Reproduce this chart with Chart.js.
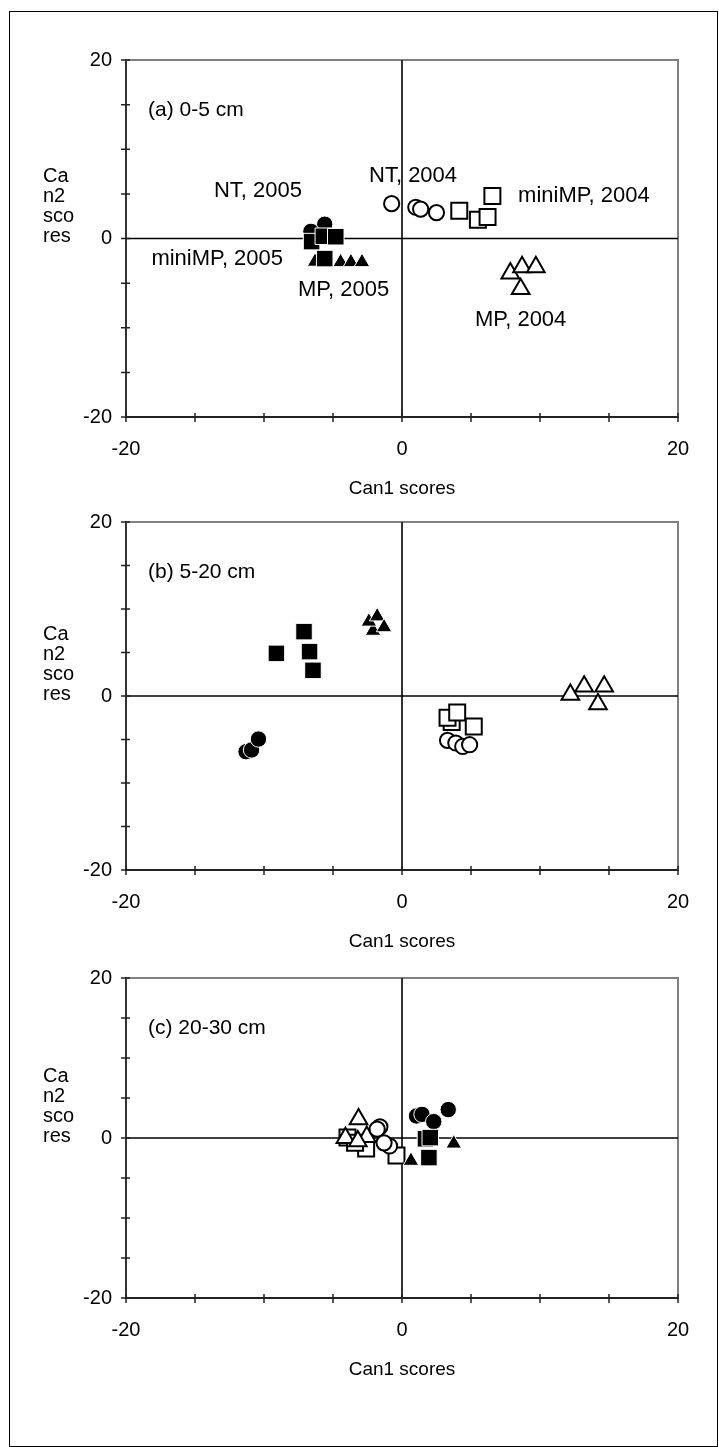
<!DOCTYPE html>
<html>
<head>
<meta charset="utf-8">
<script src="https://cdn.jsdelivr.net/npm/chart.js@4/dist/chart.umd.min.js"></script>
<style>
  body { margin: 0; background: #fff; width: 719px; height: 1447px; position: relative; overflow: hidden; }
  #frame { position: absolute; left: 9px; top: 11px; width: 709px; height: 1436px; box-sizing: border-box; border: 1px solid #000; }
  canvas { position: absolute; left: 0; }
</style>
</head>
<body>
<div id="frame"></div>
<canvas id="pa" width="719" height="487" style="top:30px"></canvas>
<canvas id="pb" width="719" height="478" style="top:492px"></canvas>
<canvas id="pc" width="719" height="450" style="top:948px"></canvas>
<script>
var FONT = '"Liberation Sans", Arial, sans-serif';

// axis ticks: only these get a label
var tickLabels = [-20, 0, 20];
var yTitle = ['Ca', 'n2', 'sco', 'res'];

// ---- panel (a) 0-5 cm : [Can1, Can2]
var a_nt04   = [[-0.75, 3.9], [1.0, 3.5], [1.35, 3.3], [2.5, 2.9]];
var a_mini04 = [[4.15, 3.1], [5.5, 2.1], [6.2, 2.4], [6.55, 4.75]];
var a_mp04   = [[7.85, -3.9], [8.7, -3.2], [9.7, -3.2], [8.6, -5.65]];
var a_nt05   = [[-5.6, 1.6], [-6.6, 0.8]];
var a_mini05 = [[-6.55, -0.35], [-5.7, 0.25], [-4.8, 0.2], [-5.6, -2.25]];
var a_mp05   = [[-6.3, -2.6], [-4.45, -2.65], [-3.7, -2.65], [-2.9, -2.65]];

// ---- panel (b) 5-20 cm
var b_nt04   = [[3.3, -5.1], [3.9, -5.4], [4.4, -5.8], [4.9, -5.6]];
var b_mini04 = [[3.6, -3.0], [3.3, -2.5], [4.0, -1.9], [5.2, -3.5]];
var b_mp04   = [[12.2, 0.15], [13.2, 1.1], [14.65, 1.1], [14.2, -0.95]];
var b_nt05   = [[-11.3, -6.4], [-10.9, -6.2], [-10.4, -4.95]];
var b_mini05 = [[-7.1, 7.4], [-9.1, 4.9], [-6.7, 5.1], [-6.45, 2.95]];
var b_mp05   = [[-2.1, 7.5], [-2.4, 8.55], [-1.8, 9.15], [-1.3, 7.9]];

// ---- panel (c) 20-30 cm
var c_nt04   = [[-1.6, 1.4], [-1.8, 1.1], [-0.9, -1.0], [-1.3, -0.6]];
var c_mini04 = [[-3.95, 0.05], [-2.6, -1.3], [-0.4, -2.2], [-3.4, -0.6]];
var c_mp04   = [[-3.15, 2.35], [-4.1, 0.0], [-2.55, 0.15], [-3.2, -0.4]];
var c_nt05   = [[1.05, 2.75], [1.45, 2.95], [2.3, 2.05], [3.35, 3.55]];
var c_mini05 = [[1.7, -0.1], [2.05, 0.05], [1.95, -2.45]];
var c_mp05   = [[0.65, -2.85], [3.75, -0.7]];

// annotations of panel (a)
var a_noteText  = ['NT, 2004', 'NT, 2005', 'miniMP, 2005', 'MP, 2005', 'miniMP, 2004', 'MP, 2004'];
var a_noteX     = [-2.39, -7.25, -8.62, -7.54, 8.41, 5.29];
var a_noteY     = [7.06, 5.38, -2.24, -5.8, 4.82, -9.1];
var a_noteAlign = ['left', 'right', 'right', 'left', 'left', 'left'];

// marker looks
var open = { pointBackgroundColor: '#fff', pointBorderColor: '#000', pointBorderWidth: 2 };
var full = { pointBackgroundColor: '#000', pointBorderColor: '#fff', pointBorderWidth: 1 };
var looks = {
  mini05: Object.assign({ pointStyle: 'rect', pointRadius: 11.7 }, full),
  nt05:   Object.assign({ pointStyle: 'circle', pointRadius: 8.2 }, full),
  mp05:   Object.assign({ pointStyle: 'triangle', pointRadius: 9 }, full),
  nt04:   Object.assign({ pointStyle: 'circle', pointRadius: 7.6 }, open),
  mp04:   Object.assign({ pointStyle: 'triangle', pointRadius: 10.2 }, open),
  mini04: Object.assign({ pointStyle: 'rect', pointRadius: 11.3 }, open)
};

function pts(arr) {
  return arr.map(function (p) { return { x: p[0], y: p[1] }; });
}

function ds(name, arr) {
  var d = Object.assign({ label: name, data: pts(arr) }, looks[name]);
  d.pointHoverRadius = d.pointRadius;
  return d;
}

var decor = {
  id: 'decor',
  beforeDatasetsDraw: function (chart) {
    var ctx = chart.ctx, a = chart.chartArea, x = chart.scales.x, y = chart.scales.y;
    var zx = x.getPixelForValue(0), zy = y.getPixelForValue(0);
    ctx.save();
    ctx.strokeStyle = '#808080';
    ctx.lineWidth = 2;
    ctx.beginPath();
    ctx.moveTo(a.left, a.top); ctx.lineTo(a.right, a.top); ctx.lineTo(a.right, a.bottom);
    ctx.stroke();
    ctx.strokeStyle = '#333';
    ctx.lineWidth = 2;
    ctx.beginPath(); ctx.moveTo(zx, a.top); ctx.lineTo(zx, a.bottom); ctx.stroke();
    ctx.strokeStyle = '#000';
    ctx.lineWidth = 1.5;
    ctx.beginPath(); ctx.moveTo(a.left, zy); ctx.lineTo(a.right, zy); ctx.stroke();
    ctx.restore();
  },
  afterDraw: function (chart, args, o) {
    var ctx = chart.ctx, a = chart.chartArea, x = chart.scales.x, y = chart.scales.y;
    ctx.save();
    // tick marks crossing the axes
    ctx.strokeStyle = '#222';
    ctx.lineWidth = 1.5;
    ctx.beginPath();
    x.ticks.forEach(function (t) {
      var px = x.getPixelForValue(t.value);
      ctx.moveTo(px, a.bottom - 4); ctx.lineTo(px, a.bottom + 5);
    });
    y.ticks.forEach(function (t) {
      var py = y.getPixelForValue(t.value);
      ctx.moveTo(a.left - 5, py); ctx.lineTo(a.left + 4, py);
    });
    ctx.stroke();

    ctx.fillStyle = '#000';
    ctx.textBaseline = 'middle';
    // wrapped y title
    ctx.font = '20px ' + FONT;
    ctx.textAlign = 'left';
    var zy = y.getPixelForValue(0);
    yTitle.forEach(function (s, i) {
      ctx.fillText(s, 43, zy - 2 - 20 * (yTitle.length - 1 - i));
    });
    // panel label
    ctx.font = '21px ' + FONT;
    ctx.fillText(o.label, a.left + 22, a.top + 50);
    // annotations
    ctx.font = '22px ' + FONT;
    (o.text || []).forEach(function (s, i) {
      ctx.textAlign = o.align[i];
      ctx.fillText(s, x.getPixelForValue(o.x[i]), y.getPixelForValue(o.y[i]));
    });
    ctx.restore();
  }
};

function makePanel(id, groups, label, notes) {
  var labelCb = function (v) { return tickLabels.indexOf(v) >= 0 ? String(v) : ''; };
  return new Chart(document.getElementById(id), {
    type: 'scatter',
    data: {
      datasets: [
        ds('mini05', groups.mini05), ds('nt05', groups.nt05), ds('mp05', groups.mp05),
        ds('nt04', groups.nt04), ds('mp04', groups.mp04), ds('mini04', groups.mini04)
      ]
    },
    options: {
      responsive: false,
      animation: false,
      events: [],
      layout: { padding: { top: 30, right: 41, left: 0, bottom: 0 } },
      plugins: {
        legend: { display: false },
        tooltip: { enabled: false },
        decor: Object.assign({ label: label }, notes || {})
      },
      scales: {
        x: {
          type: 'linear', min: -20, max: 20,
          grid: { display: false, drawTicks: false },
          border: { display: true, color: '#222', width: 2 },
          ticks: { stepSize: 5, autoSkip: false, maxRotation: 0, padding: 20, color: '#000',
                   font: { family: FONT, size: 20 }, callback: labelCb },
          title: { display: true, text: 'Can1 scores', color: '#000',
                   font: { family: FONT, size: 19 }, padding: { top: 0, bottom: 16.6 } },
          afterFit: function (s) { s.height = 100; }
        },
        y: {
          type: 'linear', min: -20, max: 20,
          grid: { display: false, drawTicks: false },
          border: { display: true, color: '#333', width: 2 },
          ticks: { stepSize: 5, autoSkip: false, padding: 14, color: '#000',
                   font: { family: FONT, size: 20 }, callback: labelCb },
          afterFit: function (s) { s.width = 126; }
        }
      }
    },
    plugins: [decor]
  });
}

makePanel('pa',
  { nt04: a_nt04, mini04: a_mini04, mp04: a_mp04, nt05: a_nt05, mini05: a_mini05, mp05: a_mp05 },
  '(a) 0-5 cm',
  { text: a_noteText, x: a_noteX, y: a_noteY, align: a_noteAlign });
makePanel('pb',
  { nt04: b_nt04, mini04: b_mini04, mp04: b_mp04, nt05: b_nt05, mini05: b_mini05, mp05: b_mp05 },
  '(b) 5-20 cm');
makePanel('pc',
  { nt04: c_nt04, mini04: c_mini04, mp04: c_mp04, nt05: c_nt05, mini05: c_mini05, mp05: c_mp05 },
  '(c) 20-30 cm');
</script>
</body>
</html>
